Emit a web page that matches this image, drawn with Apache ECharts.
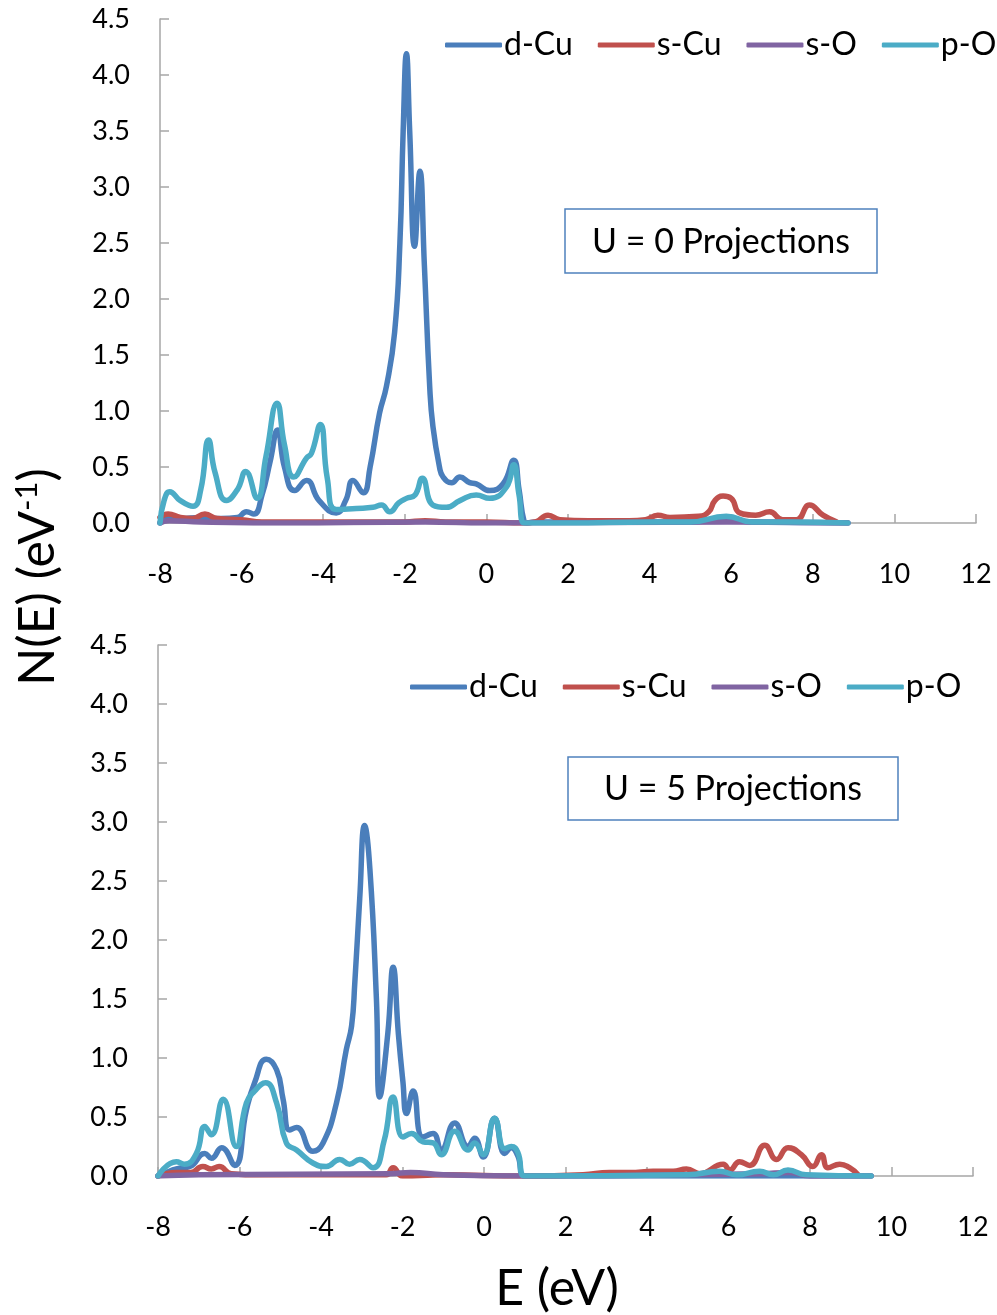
<!DOCTYPE html>
<html>
<head>
<meta charset="utf-8">
<title>PDOS Cu2O</title>
<script src="https://cdn.jsdelivr.net/npm/echarts@6/dist/echarts.min.js"></script>
<style>
  html, body { margin: 0; padding: 0; background: #fff; }
  #main { width: 997px; height: 1315px; }
</style>
</head>
<body>
<div id="main"></div>
<script>
// series names (legend)
var names = ['d-Cu', 's-Cu', 's-O', 'p-O'];
var colors = ['#4a7ebb', '#c0504d', '#8064a2', '#4bacc6'];

// x ticks / y ticks
var xTicks = [-8, -6, -4, -2, 0, 2, 4, 6, 8, 10, 12];
var yTicks = [0, 0.5, 1, 1.5, 2, 2.5, 3, 3.5, 4, 4.5];

// ---- U = 0 panel, [E, N(E)] ----
var u0_dCu = [[-8,0],[-7.9,0.05],[-7.5,0.04],[-7,0.05],[-6.5,0.04],[-6.1,0.05],[-5.88,0.1],[-5.7,0.08],
  [-5.5,0.25],[-5.3,0.55],[-5.12,0.83],[-4.95,0.5],[-4.7,0.29],[-4.41,0.38],[-4.1,0.2],[-3.68,0.09],
  [-3.45,0.2],[-3.27,0.38],[-3.02,0.27],[-2.85,0.5],[-2.62,0.98],[-2.45,1.22],[-2.25,1.7],[-2.12,2.5],
  [-2.04,3.5],[-1.96,4.19],[-1.88,3.5],[-1.76,2.47],[-1.63,3.14],[-1.52,2.3],[-1.39,1.22],[-1.31,0.86],
  [-1.15,0.5],[-1.06,0.41],[-0.85,0.36],[-0.65,0.41],[-0.41,0.36],[-0.25,0.35],[0.08,0.29],[0.41,0.35],
  [0.67,0.56],[0.8,0.3],[0.92,0.02],[1.0,0],[1.2,0.01],[3,0.01],[5,0.01],[5.9,0.03],[6.5,0.01],[8.86,0]];
var u0_sCu = [[-8,0.05],[-7.8,0.08],[-7.5,0.05],[-7.2,0.04],[-6.9,0.08],[-6.6,0.04],[-6,0.03],[-5.5,0.01],
  [-4,0.01],[-2,0.01],[-1.5,0.02],[-1,0.01],[0,0.01],[0.9,0],[1.2,0.01],[1.51,0.07],[1.8,0.03],[2.5,0.02],
  [3.5,0.02],[3.9,0.03],[4.2,0.07],[4.5,0.05],[5.2,0.06],[5.45,0.1],[5.6,0.2],[5.8,0.24],[6.0,0.22],
  [6.21,0.09],[6.6,0.07],[6.94,0.1],[7.26,0.03],[7.6,0.03],[7.92,0.16],[8.25,0.07],[8.58,0.01]];
var u0_sO = [[-8,0],[-7.8,0.02],[-7,0.01],[-5,0],[-1.5,0.01],[0,0],[5.9,0.01],[8.86,0]];
var u0_pO = [[-8,0],[-7.9,0.2],[-7.76,0.28],[-7.5,0.2],[-7.19,0.15],[-7.0,0.3],[-6.81,0.74],[-6.65,0.45],
  [-6.37,0.2],[-6.1,0.3],[-5.9,0.46],[-5.62,0.22],[-5.4,0.6],[-5.13,1.07],[-4.95,0.7],[-4.72,0.41],
  [-4.41,0.58],[-4.29,0.62],[-4.07,0.88],[-3.9,0.4],[-3.68,0.12],[-3.19,0.13],[-2.78,0.14],[-2.57,0.16],
  [-2.37,0.1],[-2.15,0.18],[-1.96,0.22],[-1.75,0.25],[-1.57,0.4],[-1.31,0.16],[-0.98,0.14],[-0.65,0.2],
  [-0.25,0.25],[0.08,0.22],[0.49,0.32],[0.67,0.52],[0.8,0.25],[0.94,0],[2,0],[4,0.01],[5,0.01],
  [5.88,0.06],[6.5,0.01],[7.5,0.01],[8.86,0]];

// ---- U = 5 panel ----
var u5_dCu = [[-8,0],[-7.8,0.03],[-7.55,0.06],[-7.22,0.08],[-6.85,0.19],[-6.69,0.15],[-6.44,0.24],
  [-6.12,0.09],[-5.83,0.56],[-5.63,0.79],[-5.34,0.99],[-5.09,0.9],[-4.93,0.65],[-4.77,0.39],[-4.6,0.41],
  [-4.2,0.21],[-3.95,0.28],[-3.62,0.62],[-3.38,1.07],[-3.25,1.27],[-3.17,1.64],[-3.05,2.35],[-2.93,2.97],
  [-2.8,2.6],[-2.64,1.5],[-2.56,0.67],[-2.36,1.21],[-2.23,1.77],[-2.1,1.2],[-1.99,0.8],[-1.9,0.53],
  [-1.74,0.72],[-1.5,0.33],[-1.25,0.36],[-1.05,0.22],[-0.72,0.45],[-0.39,0.25],[-0.23,0.32],[-0.02,0.16],
  [0.26,0.49],[0.51,0.19],[0.67,0.24],[0.83,0.17],[1.0,0],[9.5,0]];
var u5_sCu = [[-8,0],[-7.55,0.03],[-7.2,0.03],[-6.9,0.08],[-6.69,0.06],[-6.5,0.08],[-6.2,0.02],[-5.5,0.01],
  [-3,0.01],[-2.4,0.01],[-2.23,0.07],[-2.0,0],[-1,0.01],[1,0],[2.43,0.01],[3.08,0.03],[3.58,0.03],
  [4.15,0.04],[4.64,0.04],[4.97,0.06],[5.29,0.02],[5.87,0.1],[6.03,0.05],[6.27,0.12],[6.52,0.09],
  [6.89,0.26],[7.18,0.14],[7.46,0.24],[7.79,0.18],[8.07,0.08],[8.28,0.18],[8.44,0.07],[8.73,0.1],
  [8.97,0.07],[9.18,0.01]];
var u5_sO = [[-8,0],[-7,0.01],[-2.3,0.02],[-1.8,0.03],[-1,0.01],[1,0],[6.8,0.02],[7.5,0.03],[8,0],[9.5,0]];
var u5_pO = [[-8,0],[-7.55,0.12],[-7.35,0.1],[-7.06,0.19],[-6.85,0.42],[-6.69,0.35],[-6.4,0.65],[-6.08,0.25],
  [-5.83,0.62],[-5.63,0.72],[-5.36,0.79],[-5.09,0.62],[-4.85,0.28],[-4.6,0.22],[-4.2,0.11],[-3.87,0.08],
  [-3.54,0.14],[-3.3,0.1],[-3.05,0.14],[-2.72,0.07],[-2.45,0.3],[-2.23,0.67],[-1.99,0.33],[-1.78,0.36],
  [-1.5,0.29],[-1.25,0.28],[-1.05,0.18],[-0.72,0.38],[-0.39,0.22],[-0.23,0.28],[-0.02,0.18],[0.26,0.49],
  [0.51,0.23],[0.67,0.25],[0.83,0.2],[1.0,0],[5,0.01],[5.78,0.04],[6.2,0.01],[6.76,0.04],[7.1,0.01],
  [7.46,0.05],[7.9,0.01],[9.5,0]];

var FONT = 'Lato';
var axisGrey = '#a6a6a6';

function xAxisOf(gridIndex) {
  return {
    gridIndex: gridIndex,
    type: 'value',
    min: xTicks[0],
    max: xTicks[xTicks.length - 1],
    interval: 2,
    splitLine: { show: false },
    axisLine: { onZero: false, lineStyle: { color: axisGrey, width: 1.5 } },
    axisTick: { inside: true, length: 9, lineStyle: { color: axisGrey, width: 1.5 } },
    axisLabel: { margin: 38, color: '#000', fontFamily: FONT, fontSize: 27 }
  };
}
function yAxisOf(gridIndex) {
  return {
    gridIndex: gridIndex,
    type: 'value',
    min: yTicks[0],
    max: yTicks[yTicks.length - 1],
    interval: 0.5,
    splitLine: { show: false },
    axisLine: { show: true, onZero: false, lineStyle: { color: axisGrey, width: 1.5 } },
    axisTick: { show: true, inside: true, length: 9, lineStyle: { color: axisGrey, width: 1.5 } },
    axisLabel: {
      margin: 30, color: '#000', fontFamily: FONT, fontSize: 27,
      formatter: function (v) { return v.toFixed(1); }
    }
  };
}
function lineOf(name, idx, data, gridIndex) {
  return {
    name: name,
    type: 'line',
    xAxisIndex: gridIndex,
    yAxisIndex: gridIndex,
    data: data,
    showSymbol: false,
    smooth: 0.5,
    color: colors[idx],
    lineStyle: { width: 5.5, color: colors[idx], cap: 'round', join: 'round' },
    z: 2 + idx,
    animation: false
  };
}
function legendOf(left, top) {
  return {
    data: names,
    left: left,
    top: top,
    width: 640,
    icon: 'roundRect',
    itemWidth: 57,
    itemHeight: 5,
    itemGap: 25,
    textStyle: { color: '#000', fontFamily: FONT, fontSize: 32, padding: [0, 0, 0, -3] }
  };
}

var myChart = echarts.init(document.getElementById('main'), null, { renderer: 'canvas' });

var option = {
  backgroundColor: '#fff',
  animation: false,
  grid: [
    { left: 160, top: 19, width: 816, height: 504 },
    { left: 158, top: 645, width: 815, height: 531 }
  ],
  xAxis: [xAxisOf(0), xAxisOf(1)],
  yAxis: [yAxisOf(0), yAxisOf(1)],
  legend: [legendOf(440, 24), legendOf(405, 666)],
  series: [
    lineOf(names[0], 0, u0_dCu, 0),
    lineOf(names[1], 1, u0_sCu, 0),
    lineOf(names[2], 2, u0_sO, 0),
    lineOf(names[3], 3, u0_pO, 0),
    lineOf(names[0], 0, u5_dCu, 1),
    lineOf(names[1], 1, u5_sCu, 1),
    lineOf(names[2], 2, u5_sO, 1),
    lineOf(names[3], 3, u5_pO, 1)
  ],
  graphic: [
    // annotation boxes
    { type: 'rect', shape: { x: 565, y: 209, width: 312, height: 64 },
      style: { fill: '#fff', stroke: '#4f81bd', lineWidth: 1.5 }, z: 10 },
    { type: 'text', x: 721, y: 242, z: 11,
      style: { text: 'U = 0 Projections', fill: '#000', font: '34px Lato', align: 'center', verticalAlign: 'middle' } },
    { type: 'rect', shape: { x: 568, y: 757, width: 330, height: 63 },
      style: { fill: '#fff', stroke: '#4f81bd', lineWidth: 1.5 }, z: 10 },
    { type: 'text', x: 733, y: 789, z: 11,
      style: { text: 'U = 5 Projections', fill: '#000', font: '34px Lato', align: 'center', verticalAlign: 'middle' } },
    // axis titles
    { type: 'text', x: 38, y: 577, rotation: Math.PI / 2, z: 11,
      style: {
        text: '{a|N(E) (eV}{b|-1}{a|)}',
        align: 'center', verticalAlign: 'middle',
        rich: {
          a: { fontFamily: FONT, fontSize: 50, fill: '#000' },
          b: { fontFamily: FONT, fontSize: 31, fill: '#000', padding: [0, 0, 22, 0] }
        }
      } },
    { type: 'text', x: 557, y: 1289, z: 11,
      style: { text: 'E (eV)', fill: '#000', font: '50px Lato', align: 'center', verticalAlign: 'middle' } }
  ]
};

myChart.setOption(option);
</script>
</body>
</html>
